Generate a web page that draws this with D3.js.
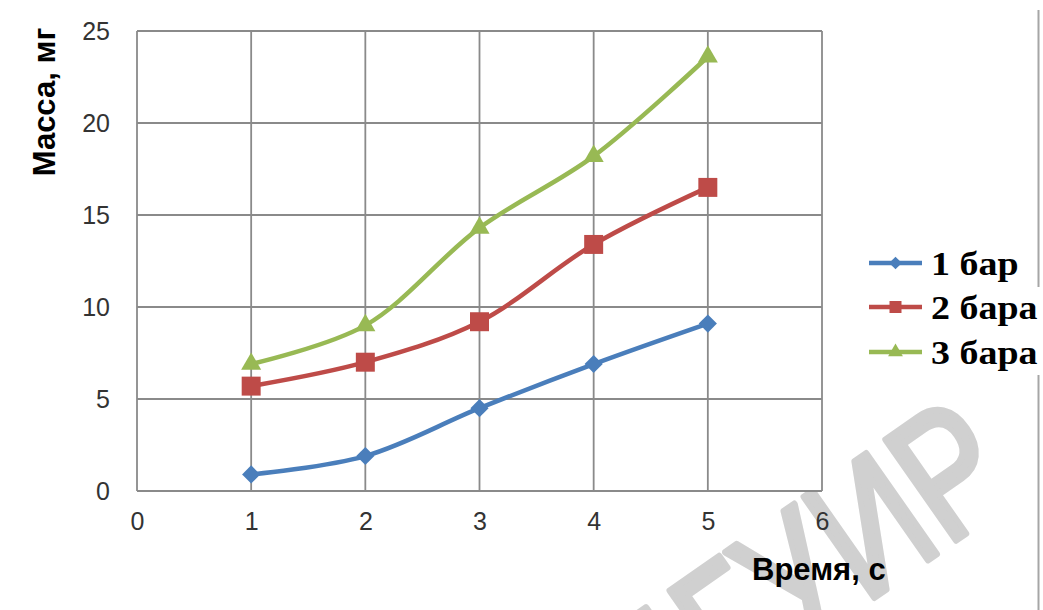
<!DOCTYPE html>
<html>
<head>
<meta charset="utf-8">
<script src="https://cdn.jsdelivr.net/npm/d3@7"></script>
<style>
  html, body { margin: 0; padding: 0; background: #fff; }
  svg { display: block; }
</style>
</head>
<body>
<svg id="chart" width="1043" height="610"></svg>
<script>
// Time points (s) and mass (mg) for each pressure
const times = [1, 2, 3, 4, 5];
const mass1bar = [0.9, 1.9, 4.5, 6.9, 9.1];
const mass2bar = [5.7, 7.0, 9.2, 13.4, 16.5];
const mass3bar = [6.9, 9.0, 14.3, 18.2, 23.6];
const seriesNames = ["1 бар", "2 бара", "3 бара"];
const seriesColors = ["#4a7ebb", "#be4b48", "#98b954"];
const xTicks = [0, 1, 2, 3, 4, 5, 6];
const yTicks = [0, 5, 10, 15, 20, 25];
const xTitle = "Время, с";
const yTitle = "Масса, мг";
const watermark = "БГУИР";

const svg = d3.select("#chart");
const plot = { left: 137, right: 822, top: 31, bottom: 491 };

const x = d3.scaleLinear().domain([0, 6]).range([plot.left, plot.right]);
const y = d3.scaleLinear().domain([0, 25]).range([plot.bottom, plot.top]);

// Faint watermark behind everything
svg.append("text")
  .attr("transform", "translate(1022,494) rotate(-35) scale(0.78,1)")
  .attr("text-anchor", "end")
  .attr("font-family", "'Liberation Sans', Arial, sans-serif")
  .attr("font-size", 178)
  .attr("fill", "#d0d0d0")
  .attr("stroke", "#d0d0d0")
  .attr("stroke-width", 7)
  .attr("stroke-linejoin", "round")
  .text(watermark);

// Page border on the right
const borderPieces = [[10, 287], [375, 610]];
svg.selectAll("line.page-border").data(borderPieces).join("line")
  .attr("class", "page-border")
  .attr("x1", 1038.5).attr("x2", 1038.5)
  .attr("y1", d => d[0]).attr("y2", d => d[1])
  .attr("stroke", "#a6a6a6").attr("stroke-width", 2);

// Plot background and grid
svg.append("rect")
  .attr("x", plot.left).attr("y", plot.top)
  .attr("width", plot.right - plot.left).attr("height", plot.bottom - plot.top)
  .attr("fill", "#fff");

const gridColor = "#8a8a8a";
svg.append("g").selectAll("line").data(xTicks).join("line")
  .attr("x1", d => x(d)).attr("x2", d => x(d))
  .attr("y1", plot.top).attr("y2", plot.bottom)
  .attr("stroke", gridColor).attr("stroke-width", 1.8);
svg.append("g").selectAll("line").data(yTicks).join("line")
  .attr("x1", plot.left).attr("x2", plot.right)
  .attr("y1", d => y(d)).attr("y2", d => y(d))
  .attr("stroke", gridColor).attr("stroke-width", 1.8);

// Axes (labels only)
const tickFont = "'Liberation Sans', Arial, sans-serif";
const yAxis = svg.append("g")
  .attr("transform", `translate(${plot.left},0)`)
  .call(d3.axisLeft(y).tickValues(yTicks).tickFormat(d3.format("d")).tickSize(0).tickPadding(27));
const xAxis = svg.append("g")
  .attr("transform", `translate(0,${plot.bottom})`)
  .call(d3.axisBottom(x).tickValues(xTicks).tickFormat(d3.format("d")).tickSize(0).tickPadding(21));
[yAxis, xAxis].forEach(g => {
  g.select(".domain").remove();
  g.selectAll("text")
    .attr("font-family", tickFont)
    .attr("font-size", 25)
    .attr("fill", "#333");
});

// Axis titles
svg.append("text")
  .attr("transform", "translate(55,102) rotate(-90)")
  .attr("text-anchor", "middle")
  .attr("font-family", tickFont)
  .attr("font-weight", "bold")
  .attr("font-size", 31)
  .attr("fill", "#000")
  .text(yTitle);
svg.append("text")
  .attr("x", 752).attr("y", 580)
  .attr("font-family", tickFont)
  .attr("font-weight", "bold")
  .attr("font-size", 31)
  .attr("fill", "#000")
  .text(xTitle);

// Series
const series = [mass1bar, mass2bar, mass3bar].map((vals, i) => ({
  name: seriesNames[i],
  color: seriesColors[i],
  points: times.map((t, j) => ({ t, v: vals[j] }))
}));

const markerPath = [
  d3.symbol().type(d3.symbolSquare).size(165)(),   // diamond (rotated square)
  d3.symbol().type(d3.symbolSquare).size(360)(),
  d3.symbol().type(d3.symbolTriangle).size(175)()
];
const markerRotate = [45, 0, 0];
const legendMarkerPath = [
  d3.symbol().type(d3.symbolSquare).size(80)(),
  d3.symbol().type(d3.symbolSquare).size(144)(),
  d3.symbol().type(d3.symbolTriangle).size(95)()
];

const line = d3.line()
  .x(d => x(d.t)).y(d => y(d.v))
  .curve(d3.curveCatmullRom.alpha(0.5));

series.forEach((s, i) => {
  svg.append("path")
    .datum(s.points)
    .attr("d", line)
    .attr("fill", "none")
    .attr("stroke", s.color)
    .attr("stroke-width", 4.5)
    .attr("stroke-linejoin", "round");
  svg.append("g").selectAll("path").data(s.points).join("path")
    .attr("d", markerPath[i])
    .attr("transform", d => `translate(${x(d.t)},${y(d.v)}) rotate(${markerRotate[i]})`)
    .attr("fill", s.color);
});

// Legend
const legendRows = [263, 307, 352];
const legend = svg.append("g");
series.forEach((s, i) => {
  const ly = legendRows[i];
  legend.append("line")
    .attr("x1", 869).attr("x2", 922)
    .attr("y1", ly).attr("y2", ly)
    .attr("stroke", s.color).attr("stroke-width", 4.5);
  legend.append("path")
    .attr("d", legendMarkerPath[i])
    .attr("transform", `translate(895.5,${ly}) rotate(${markerRotate[i]})`)
    .attr("fill", s.color);
  legend.append("text")
    .attr("transform", `translate(931,${ly + 12}) scale(1.15,1)`)
    .attr("font-family", "'Liberation Serif', 'Times New Roman', serif")
    .attr("font-weight", "bold")
    .attr("font-size", 33)
    .attr("fill", "#000")
    .text(s.name);
});
</script>
</body>
</html>
